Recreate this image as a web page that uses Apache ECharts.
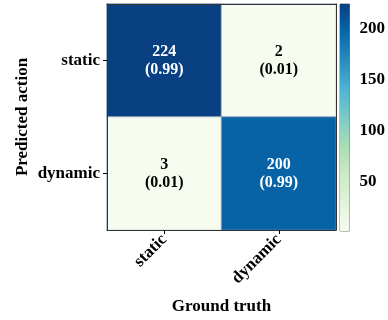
<!DOCTYPE html>
<html>
<head>
<meta charset="utf-8">
<script src="https://cdn.jsdelivr.net/npm/echarts@6/dist/echarts.min.js"></script>
<style>
  html, body { margin: 0; padding: 0; background: #fff; }
  #chart { width: 388px; height: 320px; }
</style>
</head>
<body>
<div id="chart"></div>
<script>
// Confusion matrix: rows = predicted action, columns = ground truth
const categories = ['static', 'dynamic'];
const counts = [
  [224, 2],   // predicted static
  [3, 200]    // predicted dynamic
];
const ratios = [
  ['0.99', '0.01'],
  ['0.01', '0.99']
];
const colorbarTicks = [50, 100, 150, 200];
const colorRange = [2, 224];

// GnBu colour ramp, low to high
const gnbu = ['#f7fcf0', '#e0f3db', '#ccebc5', '#a8ddb5', '#7bccc4',
              '#4eb3d3', '#2b8cbe', '#0868ac', '#084081'];

const FONT = '"Liberation Serif", "Times New Roman", serif';
const threshold = (colorRange[0] + colorRange[1]) / 2;

const cells = [];
counts.forEach((row, r) => {
  row.forEach((v, c) => {
    cells.push({
      value: [c, r, v],
      ratio: ratios[r][c],
      label: { color: v > threshold ? '#fff' : '#000' }
    });
  });
});

const frameLine = { show: true, lineStyle: { color: '#333', width: 1 } };
const hiddenParts = {
  axisTick: { show: false }, axisLabel: { show: false }, splitLine: { show: false }
};

const chart = echarts.init(document.getElementById('chart'), null, { renderer: 'canvas' });

chart.setOption({
  animation: false,
  backgroundColor: '#fff',
  grid: [
    { left: 107, top: 4, width: 229, height: 227 },
    { left: 340, top: 4, width: 11, height: 227, show: true,
      borderColor: '#777', borderWidth: 1, backgroundColor: 'transparent' }
  ],
  xAxis: [
    {
      gridIndex: 0, type: 'category', data: categories, z: 10,
      name: 'Ground truth', nameLocation: 'middle', nameGap: 68,
      nameMoveOverlap: false,
      nameTextStyle: { fontFamily: FONT, fontWeight: 'bold', fontSize: 17, color: '#000' },
      axisLine: frameLine,
      axisTick: { show: true, alignWithLabel: true, length: 4, lineStyle: { color: '#000' } },
      axisLabel: { rotate: 45, margin: 7, fontFamily: FONT, fontWeight: 'bold', fontSize: 17, color: '#000' },
      splitLine: { show: false }
    },
    Object.assign({ gridIndex: 0, type: 'category', data: categories, position: 'top',
                    z: 10, axisLine: frameLine }, hiddenParts),
    { gridIndex: 1, type: 'value', min: 0, max: 1, show: false }
  ],
  yAxis: [
    {
      gridIndex: 0, type: 'category', data: categories, inverse: true, z: 10,
      name: 'Predicted action', nameLocation: 'middle', nameGap: 76, nameRotate: 90,
      nameMoveOverlap: false,
      nameTextStyle: { fontFamily: FONT, fontWeight: 'bold', fontSize: 17, color: '#000' },
      axisLine: frameLine,
      axisTick: { show: true, alignWithLabel: true, length: 4, lineStyle: { color: '#000' } },
      axisLabel: { margin: 7, fontFamily: FONT, fontWeight: 'bold', fontSize: 17, color: '#000' },
      splitLine: { show: false }
    },
    Object.assign({ gridIndex: 0, type: 'category', data: categories, inverse: true,
                    position: 'right', z: 10, axisLine: frameLine }, hiddenParts),
    {
      gridIndex: 1, type: 'value', position: 'right',
      min: colorRange[0], max: colorRange[1],
      axisLine: { show: false },
      axisTick: { show: true, length: 4, customValues: colorbarTicks,
                  lineStyle: { color: '#000' } },
      axisLabel: { margin: 10, customValues: colorbarTicks, fontFamily: FONT,
                   fontWeight: 'bold', fontSize: 17, color: '#000' },
      splitLine: { show: false }
    }
  ],
  visualMap: {
    show: false, type: 'continuous', seriesIndex: 0, dimension: 2,
    min: colorRange[0], max: colorRange[1],
    inRange: { color: gnbu }
  },
  series: [
    {
      type: 'heatmap', xAxisIndex: 0, yAxisIndex: 0,
      data: cells,
      itemStyle: { borderColor: 'rgba(150,170,190,0.9)', borderWidth: 1 },
      label: {
        show: true,
        formatter: p => p.data.value[2] + '\n(' + p.data.ratio + ')',
        fontFamily: FONT, fontWeight: 'bold', fontSize: 16, lineHeight: 18
      },
      emphasis: { disabled: true }
    },
    {
      // colour bar drawn as a gradient rectangle spanning the value range
      type: 'custom', xAxisIndex: 2, yAxisIndex: 2, silent: true,
      data: [[0, colorRange[0], 1, colorRange[1]]],
      renderItem: (params, api) => {
        const p0 = api.coord([api.value(0), api.value(1)]);
        const p1 = api.coord([api.value(2), api.value(3)]);
        return {
          type: 'rect',
          shape: { x: p0[0], y: p1[1], width: p1[0] - p0[0], height: p0[1] - p1[1] },
          style: {
            fill: new echarts.graphic.LinearGradient(0, 1, 0, 0,
              gnbu.map((c, i) => ({ offset: i / (gnbu.length - 1), color: c })))
          }
        };
      }
    }
  ]
});
</script>
</body>
</html>
